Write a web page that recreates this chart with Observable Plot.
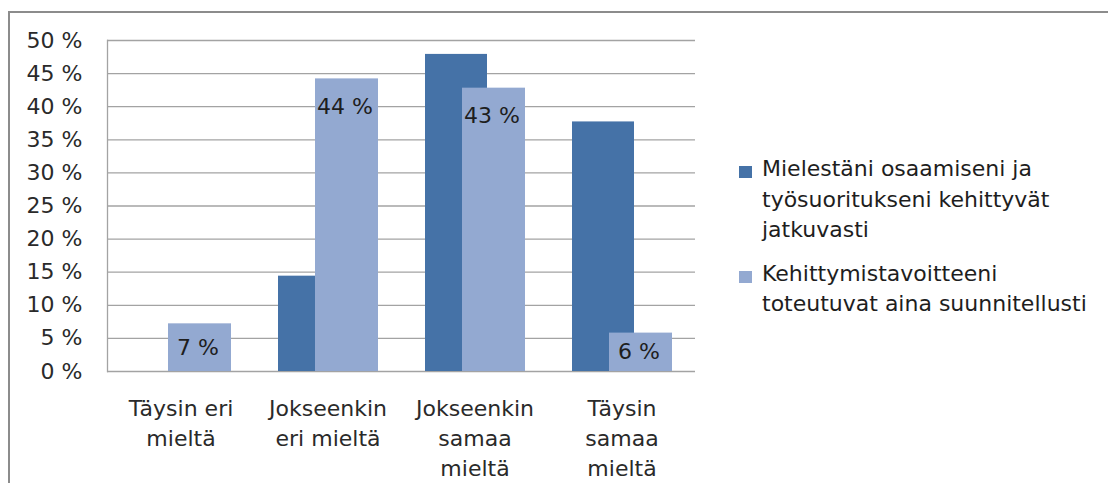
<!DOCTYPE html>
<html>
<head>
<meta charset="utf-8">
<script src="https://cdn.jsdelivr.net/npm/d3@7"></script>
<script src="https://cdn.jsdelivr.net/npm/@observablehq/plot@0.6"></script>
<style>
  html, body { margin: 0; padding: 0; background: #fff; }
  #wrap { position: relative; width: 1108px; height: 483px; overflow: hidden; font-family: "DejaVu Sans", sans-serif; }
  #border { position: absolute; left: 8px; top: 11px; right: -10px; bottom: -10px; border-left: 2px solid #8c8c8c; border-top: 2px solid #8c8c8c; }
  #chart { position: absolute; left: 0; top: 0; }
  #legend { position: absolute; left: 739px; top: 154px; font-size: 22px; line-height: 30.5px; color: #1e1e1e; }
  .entry { position: relative; padding-left: 23px; white-space: nowrap; }
  .entry + .entry { margin-top: 13px; }
  .swatch { position: absolute; left: 0; top: 12px; width: 13px; height: 12px; }
</style>
</head>
<body>
<div id="wrap">
  <div id="border"></div>
  <div id="chart"></div>
  <div id="legend"></div>
</div>
<script>
const categories = ["Täysin eri mieltä", "Jokseenkin eri mieltä", "Jokseenkin samaa mieltä", "Täysin samaa mieltä"];
const categoryLabels = ["Täysin eri\nmieltä", "Jokseenkin\neri mieltä", "Jokseenkin\nsamaa\nmieltä", "Täysin\nsamaa\nmieltä"];
const seriesNames = ["Mielestäni osaamiseni ja työsuoritukseni kehittyvät jatkuvasti", "Kehittymistavoitteeni toteutuvat aina suunnitellusti"];
const legendLines = [["Mielestäni osaamiseni ja", "työsuoritukseni kehittyvät", "jatkuvasti"], ["Kehittymistavoitteeni", "toteutuvat aina suunnitellusti"]];
const valuesA = [0, 14.4, 47.9, 37.7];
const valuesB = [7.2, 44.2, 42.8, 5.8];
const labelsB = ["7 %", "44 %", "43 %", "6 %"];
const yTicks = [0, 5, 10, 15, 20, 25, 30, 35, 40, 45, 50];
const colors = ["#4572a7", "#93a9d1"];

const dataA = categories.map((c, i) => ({cat: c, value: valuesA[i], series: seriesNames[0]}));
const dataB = categories.map((c, i) => ({cat: c, value: valuesB[i], series: seriesNames[1], label: labelsB[i]}));
const labelOf = new Map(categories.map((c, i) => [c, categoryLabels[i]]));

const chart = Plot.plot({
  width: 700,
  height: 483,
  marginLeft: 107,
  marginRight: 5,
  marginTop: 40,
  marginBottom: 112,
  style: {fontFamily: "DejaVu Sans, sans-serif", fontSize: "22px", color: "#222", background: "transparent"},
  x: {type: "band", domain: categories, padding: 0, label: null},
  y: {domain: [0, 50], label: null},
  color: {domain: seriesNames, range: colors},
  marks: [
    Plot.gridY(yTicks, {stroke: "#a3a3a3", strokeOpacity: 1, strokeWidth: 1.3}),
    Plot.frame({anchor: "left", stroke: "#a3a3a3", strokeWidth: 1.3}),
    Plot.barY(dataA, {x: "cat", y: "value", fill: "series", insetLeft: 24, insetRight: 61}),
    Plot.barY(dataB, {x: "cat", y: "value", fill: "series", insetLeft: 61, insetRight: 23}),
    Plot.text(dataB.filter(d => d.value >= 10), {x: "cat", y: "value", text: "label", dx: 17, dy: 28, fill: "#1e1e1e", fontSize: 22}),
    Plot.text(dataB.filter(d => d.value < 10), {x: "cat", y: d => d.value / 2, text: "label", dx: 17, fill: "#1e1e1e", fontSize: 22}),
    Plot.axisY({ticks: yTicks, tickSize: 0, tickPadding: 25, tickFormat: d => d + " %", fill: "#2a2a2a", label: null}),
    Plot.axisX({tickSize: 0, tickPadding: 23, tickFormat: d => labelOf.get(d), lineHeight: 1.37, fill: "#2a2a2a", label: null})
  ]
});
document.getElementById("chart").appendChild(chart);

const legend = document.getElementById("legend");
seriesNames.forEach((s, i) => {
  const entry = document.createElement("div");
  entry.className = "entry";
  const sw = document.createElement("div");
  sw.className = "swatch";
  sw.style.background = colors[i];
  entry.appendChild(sw);
  legendLines[i].forEach((line, j) => {
    if (j > 0) entry.appendChild(document.createElement("br"));
    entry.appendChild(document.createTextNode(line));
  });
  legend.appendChild(entry);
});
</script>
</body>
</html>
